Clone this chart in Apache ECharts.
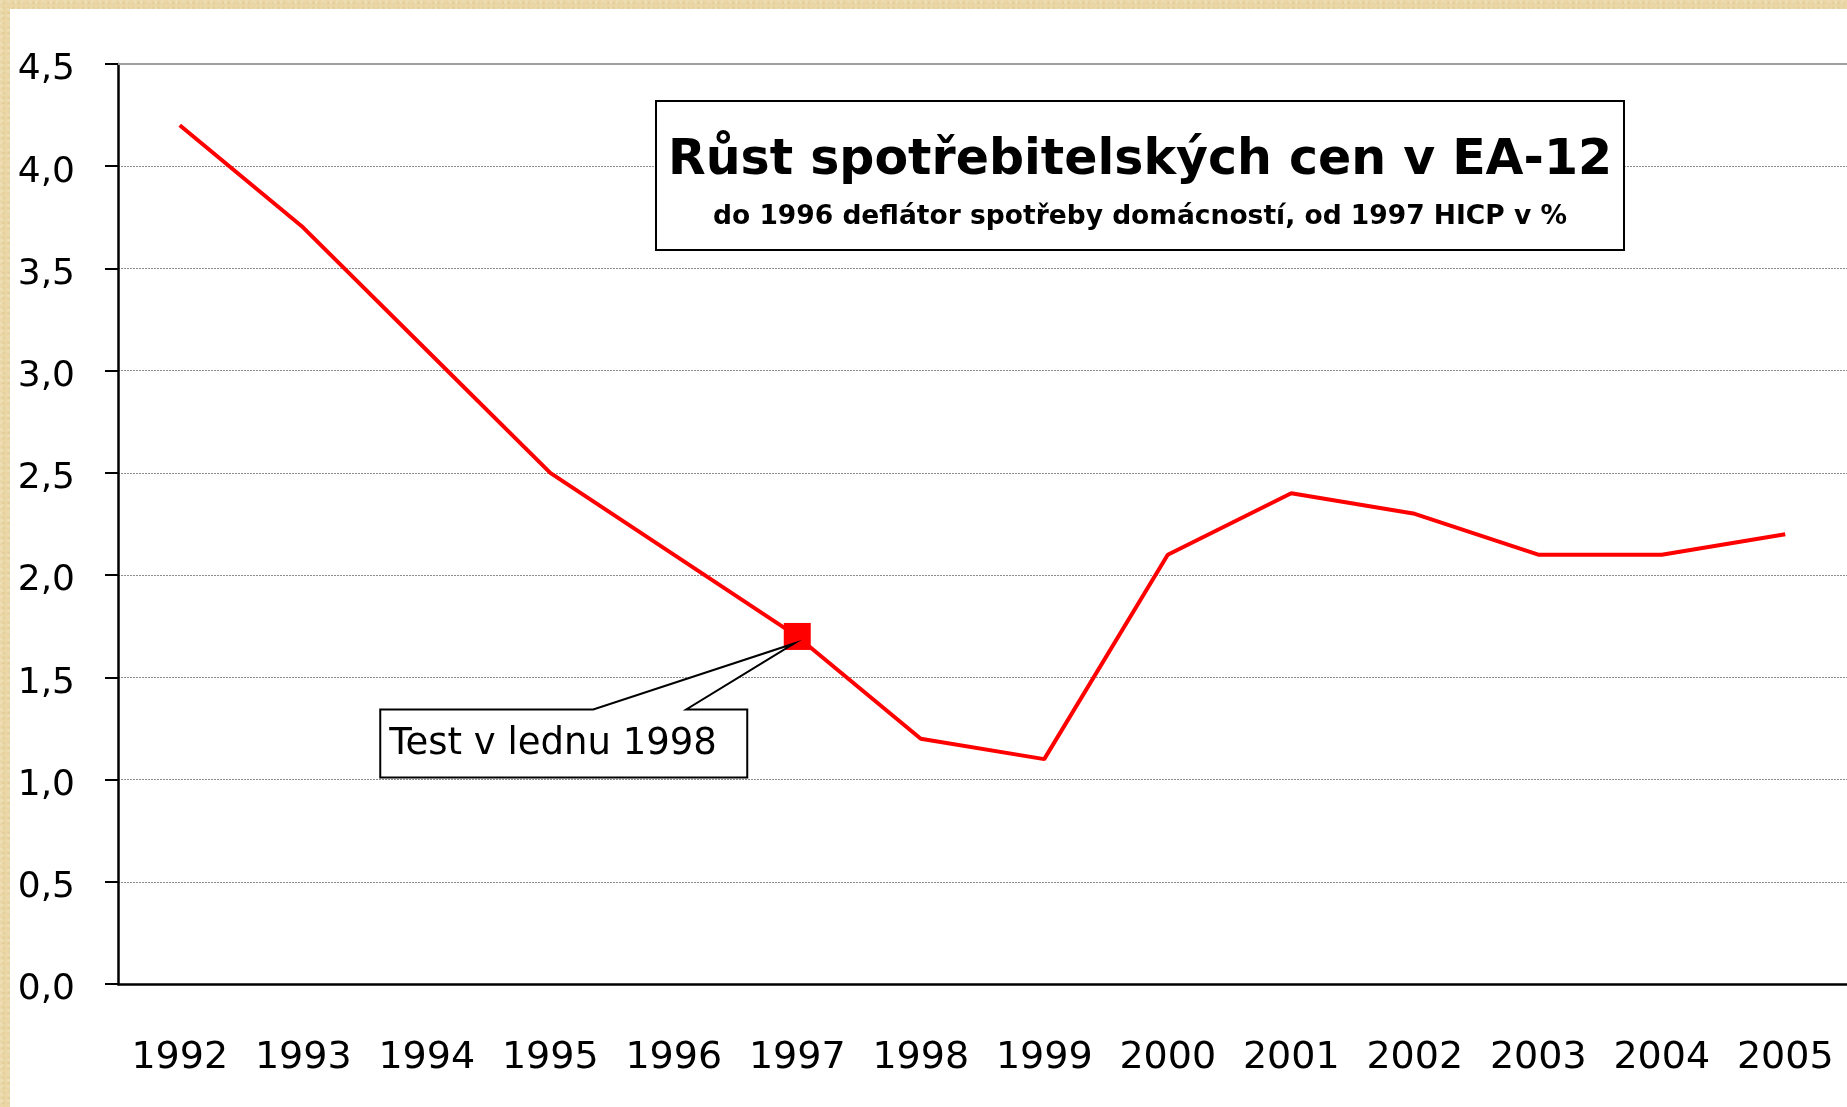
<!DOCTYPE html>
<html>
<head>
<meta charset="utf-8">
<title>Růst spotřebitelských cen v EA-12</title>
<script src="https://cdn.jsdelivr.net/npm/echarts@6/dist/echarts.min.js"></script>
<style>
  html, body { margin: 0; padding: 0; }
  body {
    width: 1847px; height: 1107px; overflow: hidden;
    background: #ead7a5;
    background-image:
      radial-gradient(circle at 20% 30%, rgba(255,255,255,0.25) 0, rgba(255,255,255,0) 3px),
      radial-gradient(circle at 70% 60%, rgba(160,120,60,0.15) 0, rgba(160,120,60,0) 2px);
    background-size: 7px 7px, 5px 5px;
  }
  #chart {
    position: absolute; left: 10px; top: 9px;
    width: 1837px; height: 1098px; background: #fff;
  }
</style>
</head>
<body>
<div id="chart"></div>
<script>
const years = ['1992', '1993', '1994', '1995', '1996', '1997', '1998',
  '1999', '2000', '2001', '2002', '2003', '2004', '2005'];
const inflation = [4.2, 3.7, 3.1, 2.5, 2.1, 1.7, 1.2, 1.1, 2.1, 2.4, 2.3, 2.1, 2.1, 2.2];
const yTicks = [0, 0.5, 1, 1.5, 2, 2.5, 3, 3.5, 4, 4.5];
const markedYear = '1997';
const calloutText = 'Test v lednu 1998';
const titleText = 'Růst spotřebitelských cen v EA-12';
const subtitleText = 'do 1996 deflátor spotřeby domácností, od 1997 HICP v %';

const font = '"DejaVu Sans", "Liberation Sans", sans-serif';
const chart = echarts.init(document.getElementById('chart'));

const seriesData = inflation.map((v, i) => {
  if (years[i] === markedYear) {
    return { value: v, symbol: 'rect', symbolSize: 27, itemStyle: { color: '#ff0000' } };
  }
  return v;
});

chart.setOption({
  animation: false,
  backgroundColor: '#fff',
  title: {
    text: titleText,
    subtext: subtitleText,
    left: 1118,
    top: 92,
    textAlign: 'center',
    padding: [36, 12, 19, 12],
    itemGap: 18,
    borderColor: '#000',
    borderWidth: 2,
    backgroundColor: '#fff',
    textStyle: { fontFamily: font, fontWeight: 'bold', fontSize: 49, color: '#000' },
    subtextStyle: { fontFamily: font, fontWeight: 'bold', fontSize: 26.5, color: '#000' }
  },
  grid: { left: 108, top: 55, right: -7, bottom: 123 },
  xAxis: {
    type: 'category',
    data: years,
    boundaryGap: true,
    axisLine: { lineStyle: { color: '#000', width: 2.5 } },
    axisTick: { length: 14, lineStyle: { color: '#000', width: 2 } },
    axisLabel: { interval: 0, margin: 55, fontFamily: font, fontSize: 38, color: '#000' },
    splitLine: { show: false }
  },
  yAxis: {
    type: 'value',
    min: yTicks[0],
    max: yTicks[yTicks.length - 1],
    interval: 0.5,
    axisLine: { show: true, lineStyle: { color: '#000', width: 2.5 } },
    axisTick: { show: true, length: 13, lineStyle: { color: '#000', width: 2 } },
    axisLabel: {
      margin: 43, fontFamily: font, fontSize: 36, color: '#000',
      verticalAlign: 'top', lineHeight: 12,
      formatter: (v) => v.toFixed(1).replace('.', ',')
    },
    splitLine: { lineStyle: { color: '#8c8c8c', width: 1, type: [2, 1] } }
  },
  series: [{
    type: 'line',
    data: seriesData,
    symbol: 'none',
    showSymbol: true,
    lineStyle: { color: '#ff0000', width: 4 },
    itemStyle: { color: '#ff0000' },
    markLine: {
      silent: true,
      symbol: 'none',
      label: { show: false },
      lineStyle: { color: '#a0a0a0', width: 2, type: 'solid' },
      data: [{ yAxis: yTicks[yTicks.length - 1] }]
    },
    z: 3
  }]
});

// callout box pointing at the marked point
const idx = years.indexOf(markedYear);
const p = chart.convertToPixel({ seriesIndex: 0 }, [idx, inflation[idx]]);
const bx0 = p[0] - 417;
const bx1 = p[0] - 50;
const by0 = p[1] + 73;
const by1 = p[1] + 141;
chart.setOption({
  graphic: [{
    type: 'polygon',
    z: 100,
    shape: {
      points: [
        [bx0, by0], [p[0] - 204, by0], [p[0] - 3, p[1] + 7], [p[0] - 111, by0],
        [bx1, by0], [bx1, by1], [bx0, by1]
      ]
    },
    style: { fill: '#fff', stroke: '#000', lineWidth: 2 }
  }, {
    type: 'text',
    z: 101,
    x: bx0 + 9,
    y: p[1] + 108,
    style: {
      text: calloutText,
      font: '37px ' + font,
      fill: '#000',
      verticalAlign: 'middle'
    }
  }]
});
</script>
</body>
</html>
